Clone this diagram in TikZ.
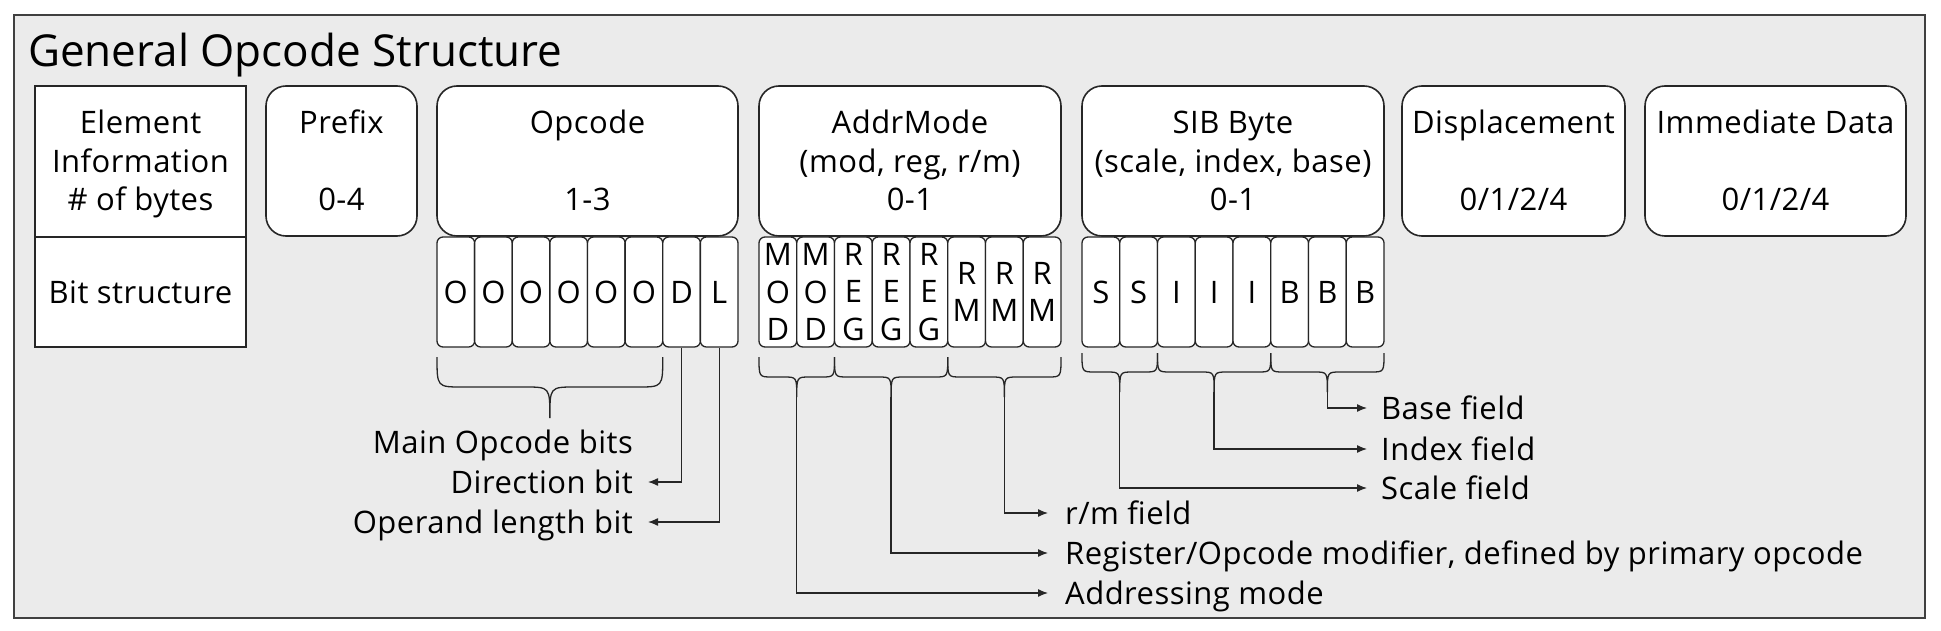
\documentclass[tikz,border=0pt]{standalone}
\usepackage{fontspec}
\setmainfont{Open Sans}
\newfontfamily\bodyfont{Open Sans}[LetterSpace=1.5]
\usetikzlibrary{arrows.meta}
\newcommand\fs{\bodyfont\fontsize{31}{37.5}\selectfont}
% name, xl, xr, yt, ym, yb, r
\newcommand\bracepath[7]{%
  \pgfmathsetmacro\bxc{(#2+#3)/2}%
  \pgfmathsetmacro\bxa{#2+#7}%
  \pgfmathsetmacro\bxb{\bxc-#7}%
  \pgfmathsetmacro\bxd{\bxc+#7}%
  \pgfmathsetmacro\bxe{#3-#7}%
  \draw[brace] (#2,#4) .. controls (#2,#5) .. (\bxa,#5) -- (\bxb,#5)
     .. controls (\bxc,#5) .. (\bxc,#6)
     .. controls (\bxc,#5) .. (\bxd,#5) -- (\bxe,#5)
     .. controls (#3,#5) .. (#3,#4);
  \coordinate (#1) at (\bxc,#6);
}
\begin{document}
\begin{tikzpicture}[x=1pt,y=-1pt,
  frame/.style={draw=black!75, line width=2pt, fill=black!8},
  tbl/.style={draw=black!85, line width=1.6pt, fill=white, inner sep=0},
  bbox/.style={draw=black!85, line width=1.6pt, fill=white, rounded corners=20pt, inner sep=0, minimum height=150pt},
  cell/.style={draw=black!85, line width=1.3pt, fill=white, rounded corners=6pt, inner sep=0, minimum height=110pt, align=center, font=\fs},
  brace/.style={draw=black!85, line width=1.3pt},
  conn/.style={draw=black!85, line width=1.3pt, -{Latex[length=10pt,width=8pt]}},
  lbl/.style={font=\fs, inner sep=0, text height=22pt, text depth=0pt},
  txt/.style={font=\fs, inner sep=0, anchor=base}
]
\useasboundingbox (0,0) rectangle (1941,631);
\fill[white] (0,0) rectangle (1941,631);
\draw[frame] (14,15) rectangle (1925,618);

\node[anchor=base west, inner sep=0, font=\fontsize{44}{50}\selectfont] (title) at (28,67) {General Opcode Structure};

% left table
\node[tbl, minimum width=211pt, minimum height=151pt] (info) at (140.5,161.5) {};
\node[tbl, minimum width=211pt, minimum height=110pt] (bitrow) at (140.5,292) {};
\node[txt] (infoa) at (140.5,134) {Element};
\node[txt] (infob) at (140.5,172.5) {Information};
\node[txt] (infoc) at (140.5,211) {\# of bytes};
\node[txt] (bitst) at (140.5,303) {Bit structure};

% element boxes
\node[bbox, minimum width=151pt] (prefix) at (341.5,161) {};
\node[txt] (prefixa) at (341.5,134) {Prefix};
\node[txt] (prefixc) at (341.5,211) {0-4};

\node[bbox, minimum width=301pt] (opcode) at (587.5,161) {};
\node[txt] (opcodea) at (587.5,134) {Opcode};
\node[txt] (opcodec) at (587.5,211) {1-3};

\node[bbox, minimum width=302pt] (addr) at (910,161) {};
\node[txt] (addra) at (910,134) {AddrMode};
\node[txt] (addrb) at (910,172.5) {(mod, reg, r/m)};
\node[txt] (addrc) at (910,211) {0-1};

\node[bbox, minimum width=302pt] (sib) at (1233,161) {};
\node[txt] (siba) at (1233,134) {SIB Byte};
\node[txt] (sibb) at (1233,172.5) {(scale, index, base)};
\node[txt] (sibc) at (1233,211) {0-1};

\node[bbox, minimum width=223pt] (disp) at (1513.5,161) {};
\node[txt] (dispa) at (1513.5,134) {Displacement};
\node[txt] (dispc) at (1513.5,211) {0/1/2/4};

\node[bbox, minimum width=261pt] (imm) at (1775.5,161) {};
\node[txt] (imma) at (1775.5,134) {Immediate Data};
\node[txt] (immc) at (1775.5,211) {0/1/2/4};

% bit cells
\foreach \t [count=\i] in {O,O,O,O,O,O,D,L}
  \node[cell, minimum width=37.625pt] (op\i) at ({437+(\i-0.5)*37.625},292) {\t};
\foreach \t [count=\i] in {{M\\O\\D},{M\\O\\D},{R\\E\\G},{R\\E\\G},{R\\E\\G},{R\\M},{R\\M},{R\\M}}
  \node[cell, minimum width=37.75pt] (am\i) at ({759+(\i-0.5)*37.75},292) {\t};
\foreach \t [count=\i] in {S,S,I,I,I,B,B,B}
  \node[cell, minimum width=37.75pt] (sb\i) at ({1082+(\i-0.5)*37.75},292) {\t};

% braces
\bracepath{tipop}{437}{662.75}{357}{387}{418}{25}
\bracepath{tipmod}{759}{834.5}{357}{377}{397}{13}
\bracepath{tipreg}{834.5}{947.75}{357}{377}{397}{13}
\bracepath{tiprm}{947.75}{1061}{357}{377}{397}{13}
\bracepath{tipss}{1082}{1157.5}{353}{372}{392}{13}
\bracepath{tipii}{1157.5}{1270.75}{353}{372}{392}{13}
\bracepath{tipbb}{1270.75}{1384}{353}{372}{392}{13}

% labels
\node[lbl, anchor=base east] (mainop) at (633,453) {Main Opcode bits};
\node[lbl, anchor=base east] (dirbit) at (633,493) {Direction bit};
\node[lbl, anchor=base east] (oplen) at (633,533) {Operand length bit};

\node[lbl, anchor=base west] (rmf) at (1065,524) {r/m field};
\node[lbl, anchor=base west] (regf) at (1065,564) {Register/Opcode modifier, defined by primary opcode};
\node[lbl, anchor=base west] (addrf) at (1065,604) {Addressing mode};

\node[lbl, anchor=base west] (basef) at (1381,419) {Base field};
\node[lbl, anchor=base west] (indexf) at (1381,460) {Index field};
\node[lbl, anchor=base west] (scalef) at (1381,499) {Scale field};

% connectors
\draw[conn, shorten >=15pt] (op7.south) |- (dirbit.east);
\draw[conn, shorten >=15pt] (op8.south) |- (oplen.east);
\draw[conn, shorten >=17pt] (tiprm) |- (rmf.west);
\draw[conn, shorten >=17pt] (tipreg) |- (regf.west);
\draw[conn, shorten >=17pt] (tipmod) |- (addrf.west);
\draw[conn, shorten >=14pt] (tipbb) |- (basef.west);
\draw[conn, shorten >=14pt] (tipii) |- (indexf.west);
\draw[conn, shorten >=14pt] (tipss) |- (scalef.west);
\end{tikzpicture}
\end{document}
